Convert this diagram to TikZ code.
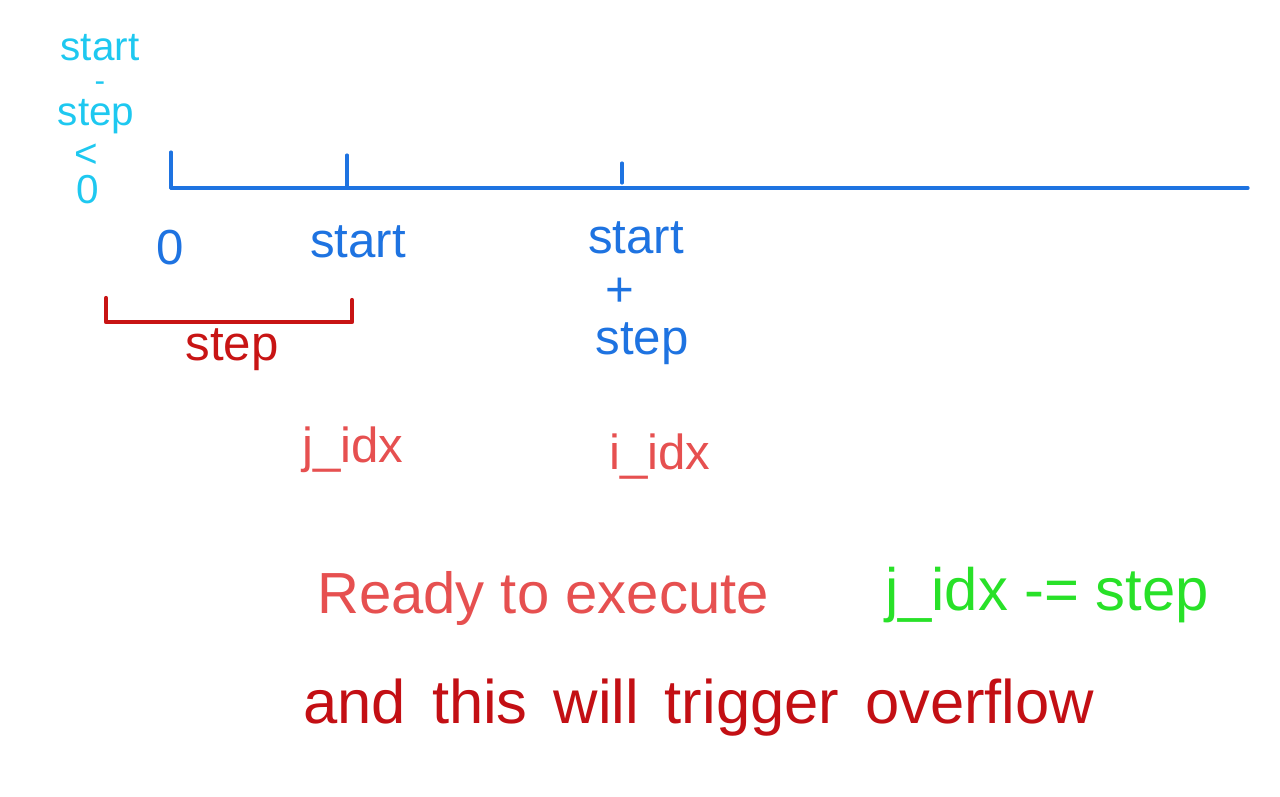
\documentclass[tikz,border=0pt]{standalone}
\usepackage{fontspec}
\setmainfont{Liberation Sans}
\definecolor{axisblue}{RGB}{30,115,225}
\definecolor{condcyan}{RGB}{30,200,240}
\definecolor{stepred}{RGB}{200,20,20}
\definecolor{idxred}{RGB}{230,80,80}
\definecolor{notegreen}{RGB}{40,225,40}
\definecolor{warnred}{RGB}{195,15,20}
\begin{document}
\begin{tikzpicture}[x=0.01cm, y=-0.01cm, line cap=round, line join=round]
  \tikzset{
    pen/.style={line width=0.9pt},
    bluelbl/.style={text=axisblue, font=\fontsize{14}{16}\selectfont, inner sep=0pt},
    cyanlbl/.style={text=condcyan, font=\fontsize{11.5}{13}\selectfont, inner sep=0pt,
      text height=0.7em, text depth=0.12em},
    idxlbl/.style={text=idxred, font=\fontsize{14}{16}\selectfont, inner sep=0pt},
  }
  \useasboundingbox (0,0) rectangle (1280,796);

  % Condition written down the left edge
  \node[cyanlbl] (cstart) at (100,50) {start};
  \node[cyanlbl, font=\fontsize{9}{10}\selectfont, text height=0.3em, text depth=0pt] (cminus) at (100,86) {-};
  \node[cyanlbl] (cstep) at (96,115) {step};
  \node[cyanlbl] (cless) at (86,157) {<};
  \node[cyanlbl] (czero) at (88,193) {0};

  % Number line with its ticks
  \coordinate (zero) at (171,188);
  \coordinate (axisend) at (1248,188);
  \draw[pen, axisblue] (zero) -- (axisend);
  \foreach \x/\top/\bot in {171/152/188, 347/155/188, 622/163/183} {
    \draw[pen, axisblue] (\x,\top) -- (\x,\bot);
  }

  % Tick labels
  \node[bluelbl] (lzero) at (170,248) {0};
  \node[bluelbl] (lstart) at (358,242) {start};
  \node[bluelbl] (lsum) at (636,238) {start};
  \node[bluelbl] (lplus) at (620,292) {+};
  \node[bluelbl] (lstep) at (642,344) {step};

  % Bracket for the step length
  \coordinate (brl) at (106,298);
  \coordinate (brr) at (352,300);
  \draw[line width=1.2pt, stepred] (brl) |- (352,322) -- (brr);
  \node[text=stepred, font=\fontsize{14}{16}\selectfont, inner sep=0pt] (bstep) at (232,350) {step};

  % Index positions
  \node[idxlbl] (jidx) at (353,450) {j\_idx};
  \node[idxlbl] (iidx) at (660,457) {i\_idx};

  % Notes
  \node[text=idxred, font=\fontsize{16.5}{20}\selectfont, inner sep=0pt] (ready) at (543,598) {Ready to execute};
  \node[text=notegreen, font=\fontsize{17}{20}\selectfont, inner sep=0pt] (update) at (1047,595) {j\_idx -= step};
  \node[text=warnred, font=\fontsize{17.5}{20}\selectfont, inner sep=0pt] (overflow) at (699,708)
    {and\hspace{0.42em}this\hspace{0.42em}will\hspace{0.42em}trigger\hspace{0.42em}overflow};
\end{tikzpicture}
\end{document}
